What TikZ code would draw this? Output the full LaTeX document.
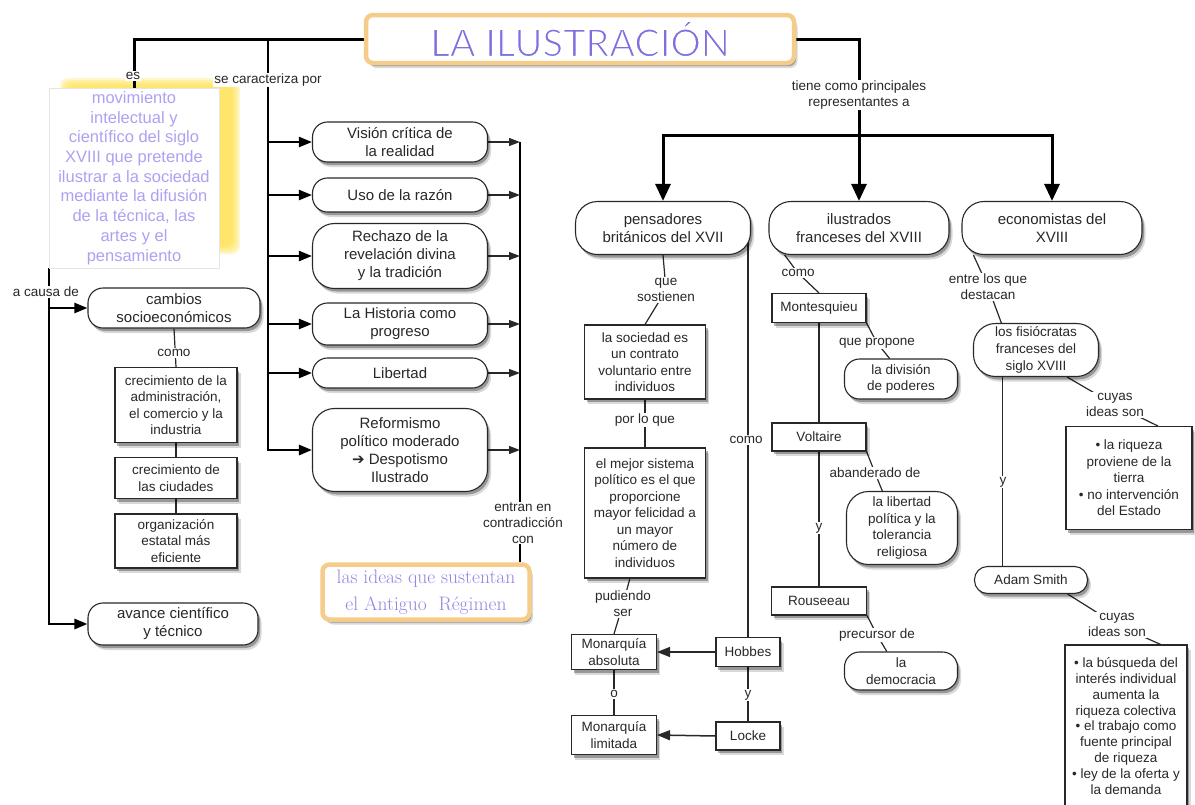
\documentclass[tikz,border=0pt]{standalone}
\usepackage{fontspec}
\setmainfont{Liberation Sans}
\newfontfamily\titlelook{Lato}
\newfontfamily\glyphfont{DejaVu Sans}
\usetikzlibrary{arrows.meta,shadows,backgrounds}

\definecolor{titlepurple}{RGB}{128,112,222}
\definecolor{notepurple}{RGB}{176,160,242}
\definecolor{oldpurple}{RGB}{150,132,228}
\definecolor{framegold}{RGB}{246,204,138}
\definecolor{glowyellow}{RGB}{255,224,70}
\definecolor{ink}{RGB}{40,40,40}

% thin strokes for the title letters
\newcommand{\thinletters}[1]{\special{pdf:literal q 2 Tr 1.3 w 1 1 1 RG}#1\special{pdf:literal Q}}

\tikzset{
    softshadow/.style={drop shadow={shadow xshift=3.5pt, shadow yshift=-5pt, opacity=.15, fill=black}, drop shadow={shadow xshift=2pt, shadow yshift=-3pt, opacity=.3, fill=black}},
    pill/.style={draw=ink, line width=1.1pt, fill=white, rounded corners=15pt, align=center, inner sep=0pt, text=ink, font=\fontsize{15}{18}\selectfont, softshadow},
    smallpill/.style={pill, font=\fontsize{13.5}{16.7}\selectfont},
    tall/.style={rounded corners=22pt},
    card/.style={draw=ink, line width=1.1pt, fill=white, align=center, inner sep=0pt, text=ink, font=\fontsize{13.5}{16.5}\selectfont, softshadow},
    goldframe/.style={draw=framegold, line width=4.5pt, fill=white, rounded corners=7pt, inner sep=0pt, align=center, softshadow},
    lbl/.style={fill=white, inner sep=1pt, align=center, text=ink, font=\fontsize{13.5}{16}\selectfont},
    link/.style={draw=ink, line width=1.2pt},
    heavy/.style={draw=black, line width=3pt},
    bigtip/.style={heavy, -{Triangle[length=17pt,width=15pt]}},
    midtip/.style={draw=black, line width=2.2pt, -{Triangle[length=13pt,width=10pt]}},
    smalltip/.style={link, -{Triangle[length=11pt,width=8pt]}},
}

\begin{document}
\begin{tikzpicture}[x=1pt, y=-1pt]
    \useasboundingbox (0,0) rectangle (1195,804);

    % Title
    \node[goldframe, minimum width=428pt, minimum height=48pt, text=titlepurple, font=\titlelook\fontsize{38}{40}\selectfont] (title) at (580,39) {\thinletters{LA ILUSTRACIÓN}};

    % Definition
    \node[draw=black!10, fill=white, minimum width=170pt, minimum height=180pt, inner sep=0pt, align=center, text=notepurple, font=\fontsize{16.5}{19.7}\selectfont] (defn) at (134,178)
        {movimiento\\intelectual y\\científico del siglo\\XVIII que pretende\\ilustrar a la sociedad\\mediante la difusión\\de la técnica, las\\artes y el\\pensamiento};

    % Causes
    \node[pill, minimum width=172pt, minimum height=40pt] (cambios) at (174,308) {cambios\\socioeconómicos};
    \node[card, minimum width=122pt, minimum height=75pt] (crec1) at (176,405) {crecimiento de la\\administración,\\el comercio y la\\industria};
    \node[card, minimum width=122pt, minimum height=41pt] (crec2) at (176,478) {crecimiento de\\las ciudades};
    \node[card, minimum width=122pt, minimum height=54pt] (org) at (176,541) {organización\\estatal más\\eficiente};
    \node[pill, minimum width=170pt, minimum height=42pt] (avance) at (173,624) {avance científico\\y técnico};

    % Features
    \node[pill, minimum width=175pt, minimum height=40pt] (vision) at (400,142) {Visión crítica de\\la realidad};
    \node[pill, minimum width=175pt, minimum height=34pt] (razon) at (400,195) {Uso de la razón};
    \node[pill, tall, minimum width=175pt, minimum height=65pt] (rechazo) at (400,256) {Rechazo de la\\revelación divina\\y la tradición};
    \node[pill, minimum width=175pt, minimum height=42pt] (historia) at (400,324) {La Historia como\\progreso};
    \node[pill, minimum width=175pt, minimum height=30pt] (libertad) at (400,373) {Libertad};
    \node[pill, tall, minimum width=175pt, minimum height=83pt] (reform) at (400,450) {Reformismo\\político moderado\\{\glyphfont ➔} Despotismo\\Ilustrado};
    \node[goldframe, minimum width=207pt, minimum height=55pt, text=oldpurple, font=\fontfamily{lmr}\fontsize{19.5}{27}\selectfont] (antiguo) at (426,592) {las ideas que sustentan\\el Antiguo~ Régimen};

    % Representatives
    \node[pill, tall, minimum width=175pt, minimum height=53pt] (pensadores) at (663,228) {pensadores\\británicos del XVII};
    \node[pill, tall, minimum width=180pt, minimum height=53pt] (ilustrados) at (859,228) {ilustrados\\franceses del XVIII};
    \node[pill, tall, minimum width=180pt, minimum height=53pt] (economistas) at (1052,228) {economistas del\\XVIII};

    % British thinkers
    \node[card, minimum width=121pt, minimum height=74pt] (sociedad) at (645,362) {la sociedad es\\un contrato\\voluntario entre\\individuos};
    \node[card, minimum width=121pt, minimum height=130pt] (mejor) at (645,513) {el mejor sistema\\político es el que\\proporcione\\mayor felicidad a\\un mayor\\número de\\individuos};
    \node[card, minimum width=85pt, minimum height=35pt] (absoluta) at (614,652) {Monarquía\\absoluta};
    \node[card, minimum width=85pt, minimum height=39pt] (limitada) at (614,735) {Monarquía\\limitada};
    \node[card, minimum width=64pt, minimum height=29pt] (hobbes) at (748,652) {Hobbes};
    \node[card, minimum width=64pt, minimum height=28pt] (locke) at (748,736) {Locke};

    % French
    \node[card, minimum width=94pt, minimum height=29pt] (montesquieu) at (819,308) {Montesquieu};
    \node[smallpill, minimum width=113pt, minimum height=40pt] (division) at (901,379) {la división\\de poderes};
    \node[card, minimum width=94pt, minimum height=28pt] (voltaire) at (819,437) {Voltaire};
    \node[smallpill, tall, minimum width=111pt, minimum height=73pt] (libpol) at (902,528) {la libertad\\política y la\\tolerancia\\religiosa};
    \node[card, minimum width=95pt, minimum height=28pt] (rousseau) at (819,601) {Rouseeau};
    \node[smallpill, minimum width=113pt, minimum height=38pt] (democracia) at (901,671) {la\\democracia};

    % Economists
    \node[smallpill, tall, minimum width=125pt, minimum height=53pt] (fisiocratas) at (1036,350) {los fisiócratas\\franceses del\\siglo XVIII};
    \node[card, minimum width=126pt, minimum height=103pt] (riqueza) at (1129,478) {• la riqueza\\proviene de la\\tierra\\• no intervención\\del Estado};
    \node[smallpill, rounded corners=13pt, minimum width=113pt, minimum height=27pt] (smith) at (1031,580) {Adam Smith};
    \node[card, minimum width=122pt, minimum height=162pt, font=\fontsize{13.5}{15.8}\selectfont] (ideas) at (1126,726) {• la búsqueda del\\interés individual\\aumenta la\\riqueza colectiva\\• el trabajo como\\fuente principal\\de riqueza\\• ley de la oferta y\\la demanda};

    % Link words
    \node[lbl] (les) at (133,76) {es};
    \node[lbl] (lcaract) at (268,80) {se caracteriza por};
    \node[lbl] (ltiene) at (859,95) {tiene como principales\\representantes a};
    \node[lbl] (lcausa) at (46,292) {a causa de};
    \node[lbl] (lcomo1) at (174,353) {como};
    \node[lbl] (lentran) at (523,523) {entran en\\contradicción\\con};
    \node[lbl] (lsost) at (666,290) {que\\sostienen};
    \node[lbl] (lporlo) at (645,420) {por lo que};
    \node[lbl] (lcomo2) at (746,440) {como};
    \node[lbl] (lpudiendo) at (623,604) {pudiendo\\ser};
    \node[lbl] (lo) at (614,694) {o};
    \node[lbl] (ly1) at (748,695) {y};
    \node[lbl] (lcomo3) at (798,273) {como};
    \node[lbl] (lpropone) at (877,343) {que propone};
    \node[lbl] (labander) at (875,473) {abanderado de};
    \node[lbl] (ly2) at (819,528) {y};
    \node[lbl] (lprecursor) at (877,635) {precursor de};
    \node[lbl] (ldestacan) at (988,287) {entre los que\\destacan};
    \node[lbl] (lcuyas1) at (1115,405) {cuyas\\ideas son};
    \node[lbl] (ly3) at (1003,482) {y};
    \node[lbl] (lcuyas2) at (1117,625) {cuyas\\ideas son};

    \begin{scope}[on background layer]
        % Glow behind the definition
        \foreach \d in {0,...,4}
            \fill[glowyellow, opacity=.28, rounded corners=8pt] (60+2*\d,78+2*\d) rectangle (240-2*\d,254-2*\d);

        % Left branches
        \draw[heavy] (title.west) -| (defn.north);
        \coordinate (trunk) at (268,39);
        \draw[midtip, line width=2.6pt] (trunk) |- (reform.west);
        \foreach \n in {vision,razon,rechazo,historia,libertad}
            \draw[midtip] (trunk |- \n.west) -- (\n.west);
        \draw[midtip, line width=2.6pt] (defn.south west) |- (avance.west);
        \draw[midtip] (defn.south west |- cambios.west) -- (cambios.west);
        \draw[link] (cambios.south) -- (crec1.north);
        \draw[link] (crec1.south) -- (crec2.north);
        \draw[link] (crec2.south) -- (org.north);

        % Contradiction bar
        \coordinate (bar) at (520,142);
        \draw[draw=black, line width=2.2pt] (bar) -- (bar |- antiguo.north);
        \foreach \n in {vision,razon,rechazo,historia,libertad,reform}
            \draw[smalltip] (\n.east) -- (\n.east -| bar);

        % Representatives
        \coordinate (rep) at (859,135);
        \draw[heavy] (title.east) -| (rep);
        \draw[bigtip] (rep) -- (ilustrados.north);
        \draw[bigtip] (rep) -| (pensadores.north);
        \draw[bigtip] (rep) -| (economistas.north);

        % British thinkers
        \draw[link] (pensadores.south) -- (lsost.center) -- (sociedad.north);
        \draw[link] (sociedad.south) -- (mejor.north);
        \draw[link] (mejor.257) -- (lpudiendo.center) -- (absoluta.north);
        \draw[link] (absoluta.south) -- (limitada.north);
        \draw[link] (hobbes.north) -- (hobbes.north |- pensadores.east);
        \draw[link] (hobbes.south) -- (locke.north);
        \draw[smalltip, line width=1.5pt, -{Triangle[length=13pt,width=10pt]}] (hobbes.west) -- (absoluta.east);
        \draw[smalltip, line width=1.5pt, -{Triangle[length=13pt,width=10pt]}] (locke.west) -- (limitada.east);

        % French
        \draw[link] (ilustrados.200) -- (lcomo3.center) -- (montesquieu.north);
        \draw[link] (montesquieu.south east) -- (lpropone.center) -- (division.119);
        \draw[link] (montesquieu.south) -- (voltaire.north);
        \draw[link] (voltaire.south east) -- (labander.center) -- (libpol.118);
        \draw[link] (voltaire.south) -- (rousseau.north);
        \draw[link] (rousseau.south east) -- (lprecursor.center) -- (democracia.126);

        % Economists
        \draw[link] (economistas.199) -- (ldestacan.center) -- (fisiocratas.142);
        \draw[link] (fisiocratas.-41) -- (lcuyas1.center) -- (riqueza.61);
        \draw[link] (fisiocratas.219) -- (fisiocratas.219 |- smith.north);
        \draw[link] (smith.-21) -- (lcuyas2.center) -- (ideas.67);
    \end{scope}

\end{tikzpicture}
\end{document}
